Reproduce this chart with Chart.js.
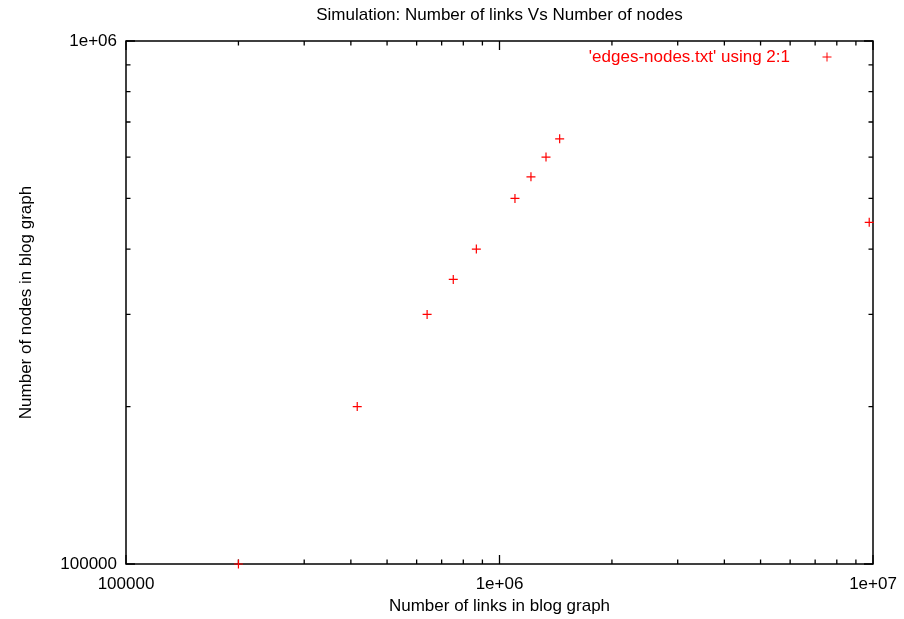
<!DOCTYPE html>
<html>
<head>
<meta charset="utf-8">
<script src="https://cdn.jsdelivr.net/npm/chart.js@4/dist/chart.umd.min.js"></script>
<style>
html,body{margin:0;padding:0;background:#fff;}
#wrap{width:904px;height:619px;}
</style>
</head>
<body>
<div id="wrap"><canvas id="c" width="904" height="619"></canvas></div>
<script>
// ---- data ----
const seriesLabel = "'edges-nodes.txt' using 2:1";
const xLinks = [2.0e5, 4.16e5, 6.40e5, 7.52e5, 8.67e5, 1.10e6, 1.214e6, 1.332e6, 1.449e6, 9.77e6];
const yNodes = [1.0e5, 2.0e5, 3.0e5, 3.5e5, 4.0e5, 5.0e5, 5.5e5, 6.0e5, 6.5e5, 4.5e5];
const xTickValues = [1e5, 1e6, 1e7];
const xTickLabels = ['100000', '1e+06', '1e+07'];
const yTickValues = [1e5, 1e6];
const yTickLabels = ['100000', '1e+06'];
const titleText = 'Simulation: Number of links Vs Number of nodes';
const xTitle = 'Number of links in blog graph';
const yTitle = 'Number of nodes in blog graph';

const FONT = "'Liberation Sans', Arial, sans-serif";
const RED = '#ff0000';

function minorValues(min, max) {
  const out = [];
  for (let e = Math.floor(Math.log10(min)); e <= Math.ceil(Math.log10(max)); e++) {
    for (let m = 1; m <= 9; m++) {
      const v = m * Math.pow(10, e);
      if (v >= min * 0.999 && v <= max * 1.001) out.push({v, major: m === 1});
    }
  }
  return out;
}

const gnuplotFrame = {
  id: 'gnuplotFrame',
  beforeDatasetsDraw(chart) {
    const ctx = chart.ctx;
    const a = chart.chartArea;
    const xs = chart.scales.x, ys = chart.scales.y;
    ctx.save();
    ctx.strokeStyle = '#000';
    ctx.lineWidth = 1.3;
    // ticks (inward, mirrored)
    const MAJ = 9, MIN = 4.5;
    ctx.beginPath();
    for (const t of minorValues(xs.min, xs.max)) {
      const px = xs.getPixelForValue(t.v);
      const L = t.major ? MAJ : MIN;
      ctx.moveTo(px, a.bottom); ctx.lineTo(px, a.bottom - L);
      ctx.moveTo(px, a.top); ctx.lineTo(px, a.top + L);
    }
    for (const t of minorValues(ys.min, ys.max)) {
      const py = ys.getPixelForValue(t.v);
      const L = t.major ? MAJ : MIN;
      ctx.moveTo(a.left, py); ctx.lineTo(a.left + L, py);
      ctx.moveTo(a.right, py); ctx.lineTo(a.right - L, py);
    }
    ctx.stroke();
    ctx.lineWidth = 1.5;
    ctx.strokeRect(a.left, a.top, a.right - a.left, a.bottom - a.top);
    // key
    ctx.fillStyle = RED;
    ctx.font = '17px ' + FONT;
    ctx.textAlign = 'right';
    ctx.textBaseline = 'middle';
    const ky = a.top + 16;
    ctx.fillText(chart.data.datasets[0].label, a.right - 83, ky);
    ctx.strokeStyle = RED;
    ctx.lineWidth = 1;
    const kx = a.right - 46;
    ctx.beginPath();
    ctx.moveTo(kx - 4.5, ky); ctx.lineTo(kx + 4.5, ky);
    ctx.moveTo(kx, ky - 4.5); ctx.lineTo(kx, ky + 4.5);
    ctx.stroke();
    ctx.restore();
  }
};

new Chart(document.getElementById('c'), {
  type: 'scatter',
  data: {
    datasets: [{
      label: seriesLabel,
      data: xLinks.map((x, i) => ({x: x, y: yNodes[i]})),
      pointStyle: 'cross',
      pointRadius: 4.5,
      pointBorderWidth: 1.2,
      borderColor: RED,
      backgroundColor: RED,
      clip: false
    }]
  },
  options: {
    responsive: false,
    animation: false,
    events: [],
    layout: { padding: { left: 0, right: 31, top: 0, bottom: 0 } },
    plugins: {
      legend: { display: false },
      tooltip: { enabled: false },
      title: {
        display: true,
        text: titleText,
        fullSize: false,
        color: '#000',
        font: { family: FONT, size: 17, weight: 'normal', lineHeight: 1.2 },
        padding: { top: 5, bottom: 15.6 }
      }
    },
    scales: {
      x: {
        type: 'logarithmic',
        position: 'bottom',
        min: 1e5, max: 1e7,
        afterBuildTicks: s => { s.ticks = xTickValues.map(v => ({value: v})); },
        afterFit: s => { s.height = 55; s.paddingLeft = 0; s.paddingRight = 0; },
        grid: { display: false, drawTicks: false },
        border: { display: false },
        ticks: {
          autoSkip: false, maxRotation: 0, padding: 10, color: '#000',
          font: { family: FONT, size: 17 },
          callback: v => xTickLabels[xTickValues.indexOf(v)]
        },
        title: {
          display: true, text: xTitle, color: '#000',
          font: { family: FONT, size: 17 },
          padding: { top: 0, bottom: 2 }
        }
      },
      y: {
        type: 'logarithmic',
        position: 'left',
        min: 1e5, max: 1e6,
        afterBuildTicks: s => { s.ticks = yTickValues.map(v => ({value: v})); },
        afterFit: s => { s.width = 126; s.paddingTop = 0; s.paddingBottom = 0; },
        grid: { display: false, drawTicks: false },
        border: { display: false },
        ticks: {
          autoSkip: false, padding: 9, color: '#000',
          font: { family: FONT, size: 17 },
          callback: v => yTickLabels[yTickValues.indexOf(v)]
        },
        title: {
          display: true, text: yTitle, color: '#000',
          font: { family: FONT, size: 17 },
          padding: { top: 16, bottom: 15 }
        }
      }
    }
  },
  plugins: [gnuplotFrame]
});
</script>
</body>
</html>
